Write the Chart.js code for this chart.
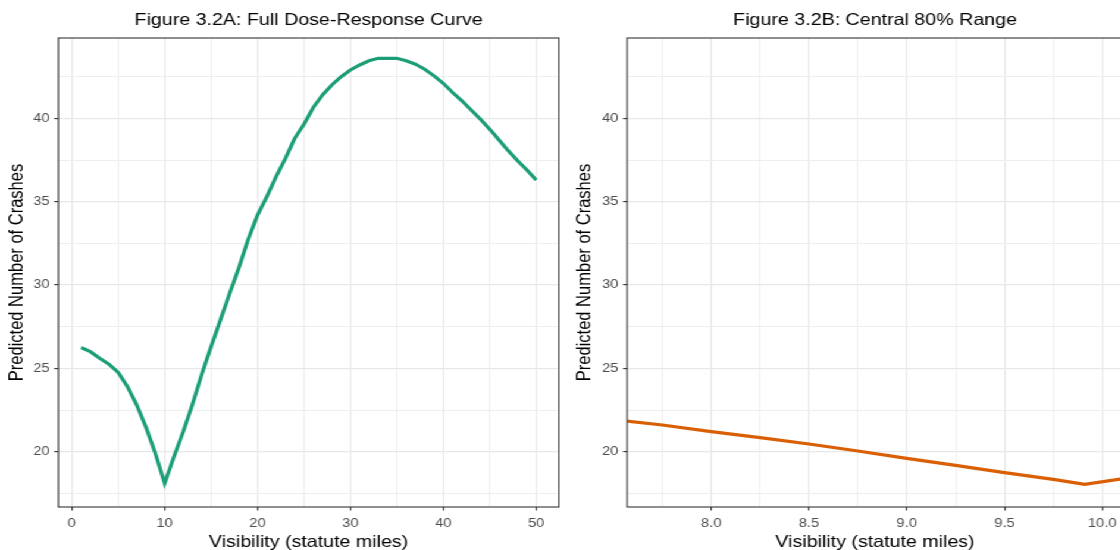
<!DOCTYPE html>
<html>
<head>
<meta charset="utf-8">
<script src="https://cdn.jsdelivr.net/npm/chart.js@4.4.1/dist/chart.umd.min.js"></script>
<style>
  html, body { margin: 0; padding: 0; background: #fff; overflow: hidden; }
  body { width: 1120px; height: 550px; position: relative; }
  /* the source figure is a little wider than tall in its text, so the panels are drawn narrow and stretched */
  #stage { position: absolute; left: 0; top: 0; width: 942px; height: 550px; overflow: hidden;
           transform-origin: 0 0; transform: scaleX(1.19); }
  #stage canvas { position: absolute; top: 0; }
  #chartA { left: 0; }
  #chartB { left: 471px; }
</style>
</head>
<body>
<div id="stage">
  <canvas id="chartA" width="471" height="550"></canvas>
  <canvas id="chartB" width="475" height="550"></canvas>
</div>
<script>
// Figure 3.2A - full dose-response curve
const visA = [1, 2, 3, 4, 5, 6, 7, 8, 9, 10,
              11, 12, 13, 14, 15, 16, 17, 18, 19, 20,
              21, 22, 23, 24, 25, 26, 27, 28, 29, 30,
              31, 32, 33, 34, 35, 36, 37, 38, 39, 40,
              41, 42, 43, 44, 45, 46, 47, 48, 49, 50];
const crashA = [26.25, 26.0, 25.6, 25.25, 24.75, 23.9, 22.8, 21.45, 19.9, 18.1,
                19.7, 21.2, 22.85, 24.65, 26.3, 27.9, 29.5, 31.05, 32.75, 34.2,
                35.3, 36.5, 37.6, 38.8, 39.65, 40.65, 41.4, 42.0, 42.5, 42.9,
                43.2, 43.45, 43.6, 43.6, 43.6, 43.45, 43.25, 42.95, 42.55, 42.1,
                41.55, 41.05, 40.5, 39.95, 39.35, 38.7, 38.05, 37.45, 36.9, 36.3];

// Figure 3.2B - central 80% range
const visB = [7.55, 7.75, 8.0, 8.25, 8.5, 8.75, 9.0, 9.25, 9.5, 9.75, 9.91, 10.12];
const crashB = [21.86, 21.6, 21.2, 20.84, 20.46, 20.04, 19.6, 19.18, 18.74, 18.34, 18.04, 18.4];

// tick labels
const yTicks = [20, 25, 30, 35, 40];
const xTicksA = [0, 10, 20, 30, 40, 50];
const xTicksB = [8.0, 8.5, 9.0, 9.5, 10.0];

const FONT = '"Liberation Sans", Arial, sans-serif';
const Y_MIN = 16.68, Y_MAX = 44.82;

// majors plus the half-step minor lines that fall inside the panel
function withMinor(major, lo, hi) {
    const step = major[1] - major[0];
    const vals = [major[0] - step / 2];
    major.forEach(v => vals.push(v, v + step / 2));
    return vals.filter(v => v >= lo && v <= hi);
}

const framePlugin = {
    id: 'frame',
    afterDraw(chart, args, opts) {
        const { ctx, chartArea: a } = chart;
        ctx.save();
        ctx.strokeStyle = '#333333';
        ctx.lineWidth = 1.1;
        ctx.strokeRect(a.left, a.top, a.right - a.left, a.bottom - a.top);
        ctx.fillStyle = '#000';
        ctx.font = '16.5px ' + FONT;
        ctx.textAlign = 'center';
        ctx.textBaseline = 'middle';
        ctx.fillText(opts.text, (a.left + a.right) / 2, 20.5);
        ctx.restore();
    }
};

function gridFor(major) {
    const isMaj = c => c.tick && major.includes(c.tick.value);
    return {
        color: c => isMaj(c) ? '#E8E8E8' : '#EEEEEE',
        lineWidth: c => isMaj(c) ? 1.2 : 1,
        tickLength: 3.5,
        tickWidth: 1.1,
        tickColor: c => isMaj(c) ? '#333333' : 'rgba(0,0,0,0)'
    };
}

function drawPanel(id, p) {
    new Chart(document.getElementById(id), {
        type: 'line',
        data: {
            datasets: [{
                data: p.xs.map((x, i) => ({ x: x, y: p.ys[i] })),
                borderColor: p.color,
                borderWidth: 3.2,
                pointRadius: 0,
                tension: 0,
                fill: false
            }]
        },
        options: {
            responsive: false,
            animation: false,
            devicePixelRatio: 1,
            layout: { padding: { top: 38, right: p.padRight, bottom: 0, left: 0 } },
            plugins: {
                legend: { display: false },
                tooltip: { enabled: false },
                frame: { text: p.title }
            },
            scales: {
                x: {
                    type: 'linear',
                    min: p.xMin,
                    max: p.xMax,
                    afterBuildTicks: s => { s.ticks = withMinor(p.xMajor, p.xMin, p.xMax).map(v => ({ value: v })); },
                    afterFit: s => { s.height = 43; },
                    border: { display: false },
                    grid: gridFor(p.xMajor),
                    ticks: {
                        autoSkip: false,
                        maxRotation: 0,
                        padding: 5.2,
                        color: '#4D4D4D',
                        font: { family: FONT, size: 12.4 },
                        callback: v => p.xMajor.includes(v) ? p.fmt(v) : ''
                    },
                    title: {
                        display: true,
                        text: 'Visibility (statute miles)',
                        color: '#000',
                        font: { family: FONT, size: 16.5, lineHeight: 0.8 },
                        padding: { top: 0, bottom: 0.6 }
                    }
                },
                y: {
                    min: Y_MIN,
                    max: Y_MAX,
                    afterBuildTicks: s => { s.ticks = withMinor(yTicks, Y_MIN, Y_MAX).map(v => ({ value: v })); },
                    afterFit: s => { s.width = p.yWidth; },
                    border: { display: false },
                    grid: gridFor(yTicks),
                    ticks: {
                        autoSkip: false,
                        padding: 3.8,
                        color: '#4D4D4D',
                        font: { family: FONT, size: 12.4 },
                        callback: v => yTicks.includes(v) ? String(v) : ''
                    },
                    title: {
                        display: true,
                        text: 'Predicted Number of Crashes',
                        color: '#000',
                        font: { family: FONT, size: 16.5, lineHeight: 1 },
                        padding: { top: p.yTitlePad, bottom: 0 }
                    }
                }
            }
        },
        plugins: [framePlugin]
    });
}

drawPanel('chartA', {
    xs: visA, ys: crashA, color: '#1B9E77',
    xMin: -1.45, xMax: 52.45, xMajor: xTicksA, fmt: v => String(v),
    yWidth: 49, yTitlePad: 6.5, padRight: 1.3,
    title: 'Figure 3.2A: Full Dose-Response Curve'
});

drawPanel('chartB', {
    xs: visB, ys: crashB, color: '#D95F02',
    xMin: 7.57, xMax: 10.106, xMajor: xTicksB, fmt: v => v.toFixed(1),
    yWidth: 56, yTitlePad: 12, padRight: 2.3,
    title: 'Figure 3.2B: Central 80% Range'
});
</script>
</body>
</html>
